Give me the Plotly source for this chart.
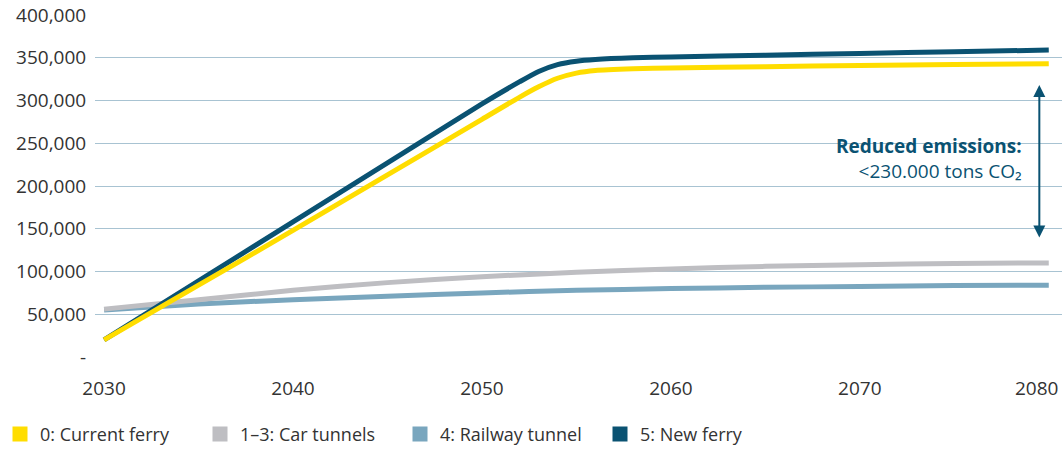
import plotly.graph_objects as go

# emissions, tons CO2 per year
years_ferry = [2030, 2035, 2040, 2045, 2050, 2052, 2053, 2054, 2055, 2056, 2058, 2060, 2065, 2070, 2075, 2080]
current_ferry = [20000, 84000, 148000, 213000, 278000, 304000, 316000, 326000, 332000, 335000, 337000, 338000, 339500, 341000, 342000, 343000]
new_ferry = [20000, 89000, 158000, 227000, 296000, 322000, 334000, 342000, 346000, 348000, 350000, 351000, 353000, 355000, 357000, 359000]

years = [2030, 2035, 2040, 2045, 2050, 2055, 2060, 2065, 2070, 2075, 2080]
car_tunnels = [56000, 67000, 78000, 87000, 94000, 99000, 103000, 106000, 108000, 109500, 110000]
railway_tunnel = [55000, 62000, 67000, 71000, 75000, 78000, 80000, 81500, 82500, 83500, 84000]

x_ticks = [2030, 2040, 2050, 2060, 2070]
y_ticks = [0, 50000, 100000, 150000, 200000, 250000, 300000, 350000, 400000]
y_labels = ["-", "50,000", "100,000", "150,000", "200,000", "250,000", "300,000", "350,000", "400,000"]

YELLOW = "#FFDD00"
GREY = "#BEBEC2"
RAIL = "#79A6BE"
NAVY = "#0A5272"
FONT = "Open Sans"

# drawing order: bottom to top
series = [
    ("4: Railway tunnel", years, railway_tunnel, RAIL),
    ("1–3: Car tunnels", years, car_tunnels, GREY),
    ("5: New ferry", years_ferry, new_ferry, NAVY),
    ("0: Current ferry", years_ferry, current_ferry, YELLOW),
]

fig = go.Figure()
for name, x, y, color in series:
    fig.add_trace(go.Scatter(x=x, y=y, mode="lines", name=name, showlegend=False,
                             line=dict(color=color, width=5, shape="spline", smoothing=0.6)))

# legend entries drawn as squares
for name, color in [("0: Current ferry", YELLOW), ("1–3: Car tunnels", GREY),
                    ("4: Railway tunnel", RAIL), ("5: New ferry", NAVY)]:
    fig.add_trace(go.Scatter(x=[None], y=[None], mode="markers", name=name,
                             marker=dict(symbol="square", size=15, color=color)))

# double arrow + label
fig.add_annotation(x=2079.5, y=318000, ax=2079.5, ay=138000, xref="x", yref="y",
                   axref="x", ayref="y", text="", showarrow=True, arrowhead=2,
                   startarrowhead=2, arrowside="end+start", arrowsize=1.2,
                   arrowwidth=2, arrowcolor=NAVY)
fig.add_annotation(x=2078.7, y=232000, xref="x", yref="y", xanchor="right",
                   text="<b>Reduced emissions:</b><br>&lt;230.000 tons CO₂",
                   showarrow=False, align="right",
                   font=dict(family=FONT, size=19, color=NAVY))
fig.add_annotation(x=1.0, y=-0.048, xref="paper", yref="paper", xanchor="right",
                   yanchor="top", text="2080", showarrow=False, xshift=-2,
                   font=dict(family=FONT, size=19, color="#333333"))

fig.update_layout(
    width=1064, height=450,
    margin=dict(l=95, r=2, t=15, b=93),
    plot_bgcolor="white", paper_bgcolor="white",
    font=dict(family=FONT, size=19, color="#333333"),
    legend=dict(orientation="h", xref="container", yref="container",
                x=-0.008, y=0.076, xanchor="left", yanchor="top",
                font=dict(family=FONT, size=18, color="#333333"),
                itemwidth=30, entrywidth=155, entrywidthmode="pixels", tracegroupgap=0),
    xaxis=dict(range=[2029.52, 2080.7], tickvals=x_ticks, ticktext=[str(v) for v in x_ticks],
               showgrid=False, zeroline=False, showline=False, automargin=False,
               ticks="outside", ticklen=14, tickcolor="rgba(0,0,0,0)"),
    yaxis=dict(range=[0, 400000], tickvals=y_ticks, ticktext=y_labels, automargin=False,
               showgrid=True, gridcolor="#A8C3D2", gridwidth=1, zeroline=False,
               showline=False, ticks="outside", ticklen=4, tickcolor="rgba(0,0,0,0)"),
)

fig.write_html("out.html", config={"displayModeBar": False},
               post_script="document.body.style.margin='0px';")
